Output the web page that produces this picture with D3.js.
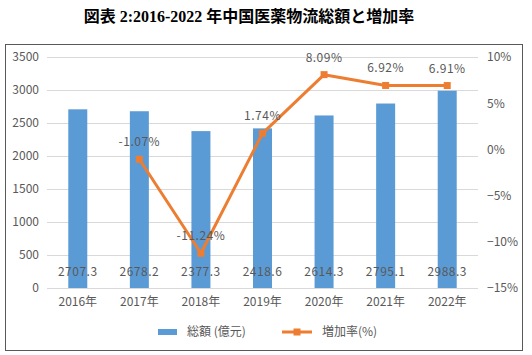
<!DOCTYPE html>
<html><head><meta charset="utf-8">
<script src="https://cdn.jsdelivr.net/npm/d3@7"></script>
<style>body{margin:0;background:#fff}svg{display:block}</style>
</head><body><svg id="c" width="532" height="355"></svg>
<script>
const categories = ["2016年","2017年","2018年","2019年","2020年","2021年","2022年"];
const totals = [2707.3, 2678.2, 2377.3, 2418.6, 2614.3, 2795.1, 2988.3];
const growth = [null, -1.07, -11.24, 1.74, 8.09, 6.92, 6.91];
const leftTicks = [0,500,1000,1500,2000,2500,3000,3500];
const rightTicks = [-15,-10,-5,0,5,10];
const titleText = "図表 2:2016-2022 年中国医薬物流総額と増加率";
const legendLabels = ["総額 (億元)", "増加率(%)"];

const svg = d3.select("#c");
const font = "'Noto Sans CJK JP', 'Noto Sans', sans-serif";
const blue = "#5B9BD5", orange = "#ED7D31", gray = "#595959";

svg.append("text").attr("x", 249).attr("y", 22).attr("text-anchor","middle")
  .attr("font-family", "'Liberation Serif', 'Noto Sans CJK JP', serif").attr("font-weight","bold")
  .attr("font-size", 16).attr("fill","#000").text(titleText);

svg.append("rect").attr("x",5.5).attr("y",44.5).attr("width",517).attr("height",306)
  .attr("fill","none").attr("stroke","#595959").attr("stroke-width",1);

const x = d3.scaleBand().domain(categories).range([47, 478]);
const yL = d3.scaleLinear().domain([0,3500]).range([288, 57]);
const yR = d3.scaleLinear().domain([-15,10]).range([288, 57]);

// gridlines
svg.append("g").selectAll("line").data(leftTicks).join("line")
  .attr("x1",47).attr("x2",478).attr("y1",d=>Math.round(yL(d))+0.5).attr("y2",d=>Math.round(yL(d))+0.5)
  .attr("stroke","#D9D9D9").attr("stroke-width",1);

// left axis
const gl = svg.append("g").attr("transform","translate(39,0)")
  .call(d3.axisLeft(yL).tickValues(leftTicks).tickSize(0).tickPadding(0).tickFormat(d3.format("d")));
gl.select(".domain").remove();
gl.selectAll("text").attr("font-family",font).attr("font-size",12).attr("fill",gray);

// right axis
const gr = svg.append("g").attr("transform","translate(487,0)")
  .call(d3.axisRight(yR).tickValues(rightTicks).tickSize(0).tickPadding(0).tickFormat(d=>d+"%"));
gr.select(".domain").remove();
gr.selectAll("text").attr("font-family",font).attr("font-size",12).attr("fill",gray)
  .text(d=> (d<0 ? "\u2212"+Math.abs(d) : d) + "%");

// bottom axis
const gb = svg.append("g").attr("transform","translate(0,288)")
  .call(d3.axisBottom(x).tickSize(0).tickPadding(9));
gb.select(".domain").remove();
gb.selectAll("text").attr("font-family",font).attr("font-size",12).attr("fill",gray);

// bars
const bw = 19;
svg.append("g").selectAll("rect").data(totals).join("rect")
  .attr("x",(d,i)=>x(categories[i])+x.bandwidth()/2-bw/2)
  .attr("width",bw).attr("y",d=>yL(d)).attr("height",d=>yL(0)-yL(d)).attr("fill",blue);

// bar labels
svg.append("g").selectAll("text").data(totals).join("text")
  .attr("x",(d,i)=>x(categories[i])+x.bandwidth()/2).attr("y",276)
  .attr("text-anchor","middle").attr("font-family",font).attr("font-size",12).attr("fill",gray)
  .attr("letter-spacing",0.5)
  .text(d=>d.toFixed(1));

// line
const pts = growth.map((g,i)=>({g, c:categories[i]})).filter(d=>d.g!==null);
const line = d3.line().x(d=>x(d.c)+x.bandwidth()/2).y(d=>yR(d.g));
svg.append("path").datum(pts).attr("d",line).attr("fill","none")
  .attr("stroke",orange).attr("stroke-width",3).attr("stroke-linejoin","round");
svg.append("g").selectAll("rect").data(pts).join("rect")
  .attr("x",d=>x(d.c)+x.bandwidth()/2-3.5).attr("y",d=>yR(d.g)-3.5)
  .attr("width",7).attr("height",7).attr("fill",orange);
svg.append("g").selectAll("text").data(pts).join("text")
  .attr("x",d=>x(d.c)+x.bandwidth()/2).attr("y",d=>yR(d.g)-13)
  .attr("text-anchor","middle").attr("font-family",font).attr("font-size",12).attr("fill",gray)
  .attr("letter-spacing",0.5)
  .text(d=>d.g.toFixed(2)+"%");

// legend
const lg = svg.append("g");
lg.append("rect").attr("x",158).attr("y",329).attr("width",19).attr("height",6).attr("fill",blue);
lg.append("text").attr("x",187).attr("y",336).attr("font-family",font).attr("font-size",12).attr("fill",gray).text(legendLabels[0]);
lg.append("line").attr("x1",282).attr("x2",312).attr("y1",332).attr("y2",332).attr("stroke",orange).attr("stroke-width",3);
lg.append("rect").attr("x",293.5).attr("y",328.5).attr("width",7).attr("height",7).attr("fill",orange);
lg.append("text").attr("x",322).attr("y",336).attr("font-family",font).attr("font-size",12).attr("fill",gray).text(legendLabels[1]);
</script></body></html>
